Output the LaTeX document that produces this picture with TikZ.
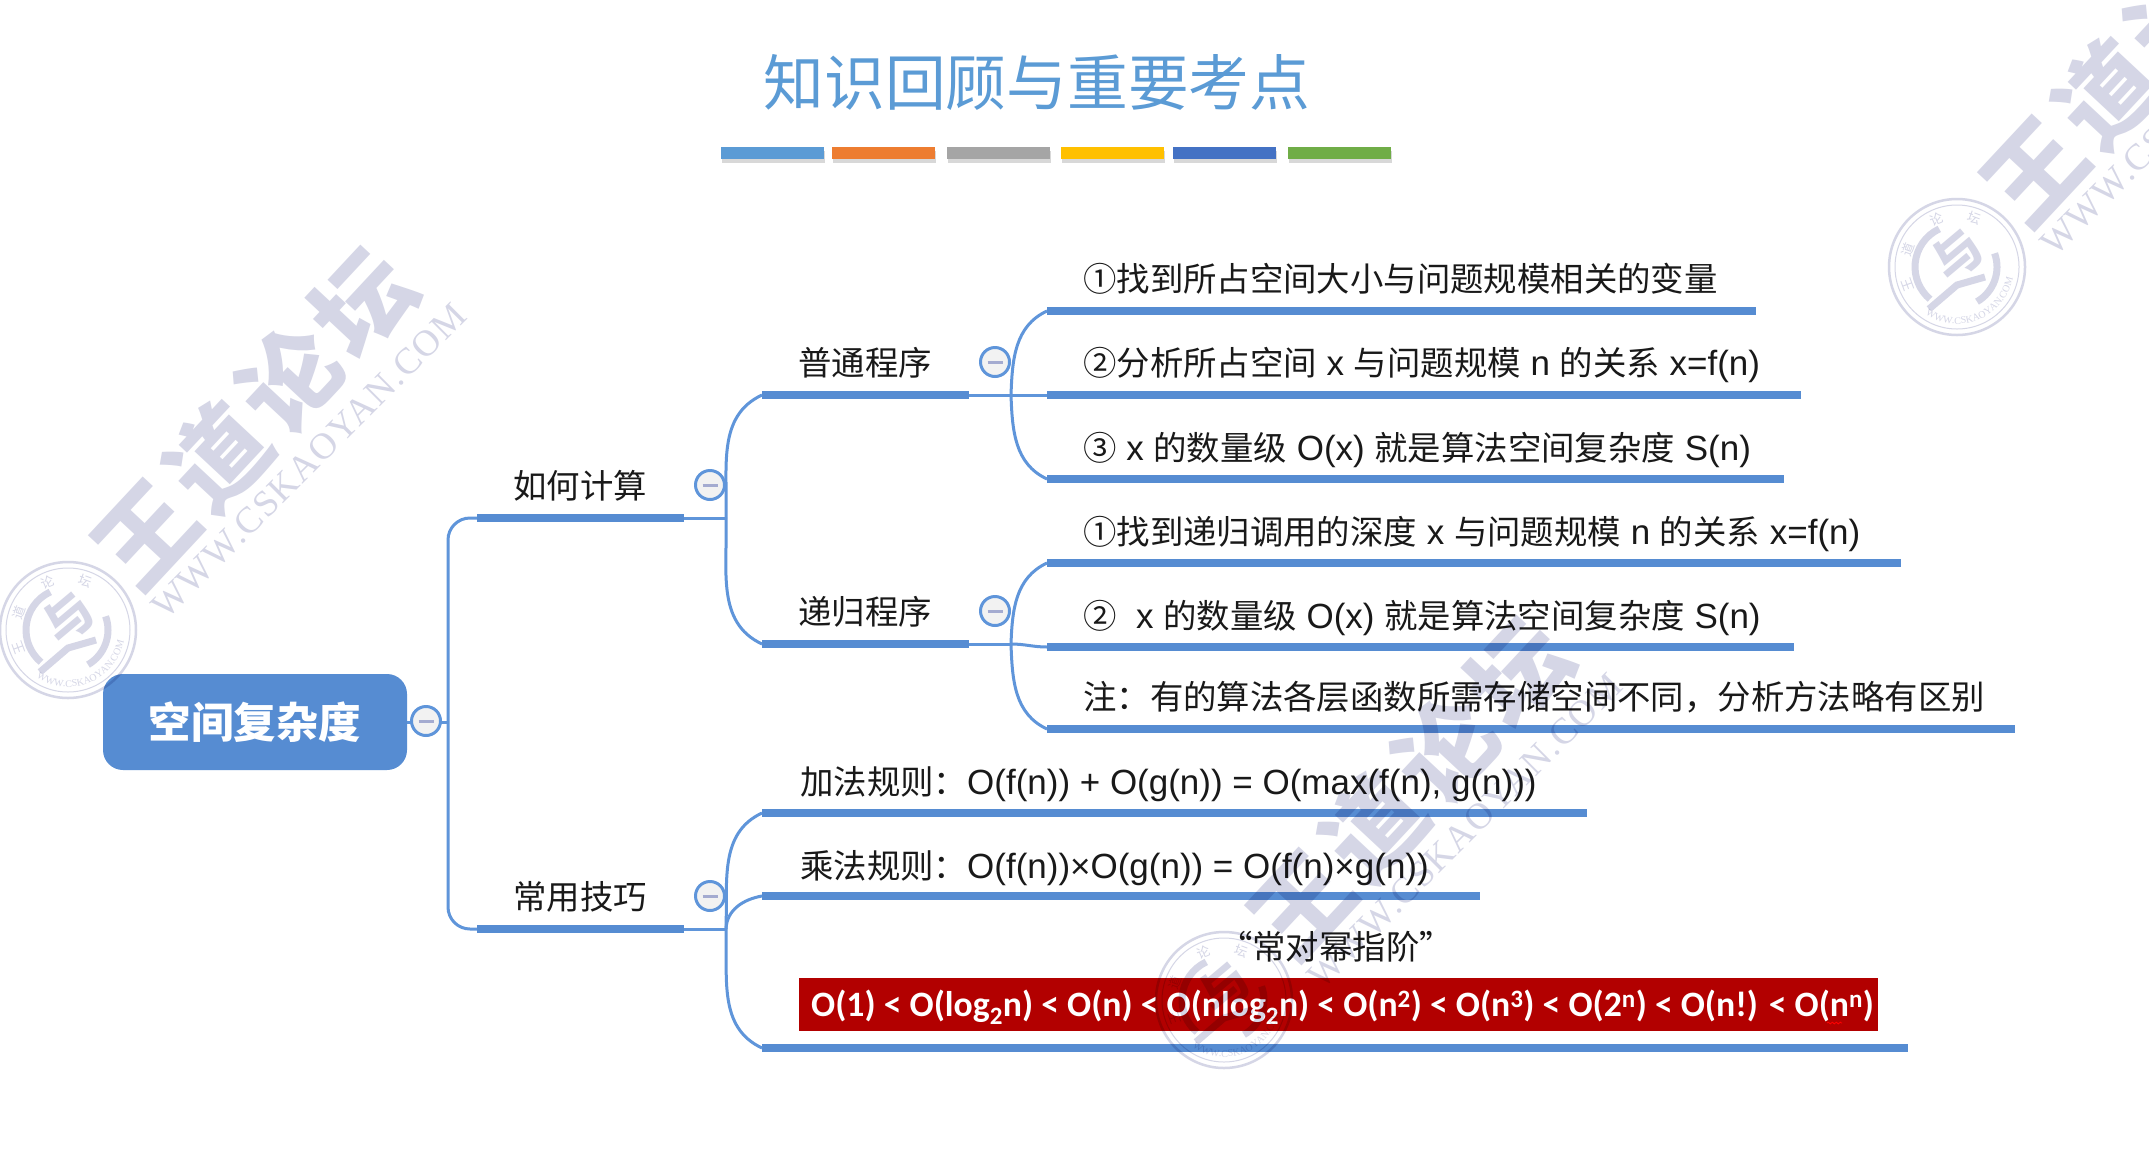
\documentclass[tikz,border=0pt]{standalone}
\usepackage{fontspec}
\setmainfont[Scale=1.06]{Liberation Sans}
\newfontfamily\cnfont[Scale=1.012]{Noto Sans CJK SC}
\newfontfamily\wmfont[LetterSpace=8]{Noto Sans CJK SC}
\newfontfamily\latinbold{Carlito}
\newfontfamily\wmserif[LetterSpace=4]{Liberation Serif}
\newcommand{\cn}[1]{{\cnfont #1}}
\newcommand{\fwcolon}{\char"FF1A\relax}
\newcommand{\fwcomma}{\char"FF0C\relax}
\usetikzlibrary{shadows,decorations.text,decorations.pathmorphing}
\definecolor{barblue}{HTML}{568CD2}
\definecolor{linkblue}{HTML}{5F95DA}
\definecolor{titleblue}{HTML}{5B9BD5}
\definecolor{wmgrey}{HTML}{D5D6E6}
\definecolor{minusgrey}{HTML}{A4ABD0}
\definecolor{redbox}{HTML}{B20000}
\tikzset{
  bar/.style={fill=barblue,inner sep=0pt,minimum height=8pt,anchor=west},
  link/.style={draw=linkblue,line width=3pt},
  topic/.style={font=\fontsize{33}{36}\selectfont,inner sep=0pt,text height=30pt,text depth=4pt,text=black!90},
  leaf/.style={topic,anchor=west},
  toggle/.style={circle,draw=linkblue,fill=gray!10,line width=3pt,minimum size=29pt,inner sep=0pt},
  stripe/.style={minimum height=12pt,minimum width=103pt,inner sep=0pt,anchor=north west,
    drop shadow={shadow xshift=1pt,shadow yshift=-4pt,opacity=.3}},
  wmark/.pic={
    \begin{scope}[y=1pt,wmgrey]
      \node[font=\fontsize{98}{110}\selectfont\wmfont\bfseries,rotate=47,inner sep=0pt] (big) at (186,212) {王道论坛};
      \node[font=\fontsize{37}{40}\selectfont\wmserif,rotate=45,inner sep=0pt] (site) at (241,169) {WWW.CSKAOYAN.COM};
      \draw[line width=2.5pt] (0,0) circle (68);
      \draw[line width=1pt] (0,0) circle (62);
      \draw[line width=7pt] (115:42) arc (115:230:42);
      \draw[line width=7pt] (20:40) arc (20:-60:40);
      \draw[line width=7pt] (-28,-42) -- (0,-18) -- (28,-10);
      \node[font=\fontsize{48}{50}\selectfont\cnfont\bfseries,rotate=40,inner sep=0pt] (yu) at (0,12) {与};
      \node[font=\fontsize{13}{14}\selectfont\cnfont,rotate=110,inner sep=0pt] (sa) at (200:52) {王};
      \node[font=\fontsize{13}{14}\selectfont\cnfont,rotate=70,inner sep=0pt] (sb) at (160:52) {道};
      \node[font=\fontsize{13}{14}\selectfont\cnfont,rotate=23,inner sep=0pt] (sc) at (113:52) {论};
      \node[font=\fontsize{13}{14}\selectfont\cnfont,rotate=-20,inner sep=0pt] (sd) at (70:52) {坛};
      \path[postaction={decorate},decoration={text along path,text align=center,
        text={|\fontsize{10}{11}\selectfont\wmserif\color{wmgrey}|WWW.CSKAOYAN.COM}}]
        (225:57) arc (225:360:57);
    \end{scope}
  }
}
\begin{document}
\begin{tikzpicture}[x=1pt,y=-1pt]
\clip (0,0) rectangle (2149,1149);
\fill[white] (0,0) rectangle (2149,1149);

\node[font=\fontsize{60}{64}\selectfont\cnfont,text=titleblue,inner sep=0pt] (title) at (1037,82) {知识回顾与重要考点};
\node[stripe,fill=titleblue] (stripea) at (721,147) {};
\node[stripe,fill={rgb,255:red,237;green,125;blue,49}] (stripeb) at (832,147) {};
\node[stripe,fill={rgb,255:red,165;green,165;blue,165}] (stripec) at (947,147) {};
\node[stripe,fill={rgb,255:red,255;green,192;blue,0}] (striped) at (1061,147) {};
\node[stripe,fill={rgb,255:red,68;green,114;blue,196}] (stripee) at (1173,147) {};
\node[stripe,fill={rgb,255:red,112;green,173;blue,71}] (stripef) at (1288,147) {};

\node[fill=barblue,rounded corners=20pt,minimum width=304pt,minimum height=96pt,inner sep=0pt,
  font=\fontsize{42}{44}\selectfont\cnfont\bfseries,text=white] (root) at (255,722) {空间复杂度};

\node[bar,minimum width=207pt] (barcalc) at (477,518) {};
\node[bar,minimum width=207pt] (barcommon) at (477,929) {};
\node[bar,minimum width=207pt] (barplain) at (762,395) {};
\node[bar,minimum width=207pt] (barrec) at (762,644) {};
\node[bar,minimum width=709pt] (barpa) at (1047,311) {};
\node[bar,minimum width=754pt] (barpb) at (1047,395) {};
\node[bar,minimum width=737pt] (barpc) at (1047,479) {};
\node[bar,minimum width=854pt] (barra) at (1047,563) {};
\node[bar,minimum width=747pt] (barrb) at (1047,647) {};
\node[bar,minimum width=968pt] (barrc) at (1047,729) {};
\node[bar,minimum width=825pt] (barca) at (762,813) {};
\node[bar,minimum width=718pt] (barcb) at (762,896) {};
\node[bar,minimum width=1146pt] (barcc) at (762,1048) {};

\coordinate (jroot) at (448,722);
\coordinate (jcalc) at (726,518);
\coordinate (jcommon) at (726,929);
\coordinate (jplain) at (1011,395);
\coordinate (jrec) at (1011,644);

\draw[link] (root.east) -- (jroot);
\draw[link,rounded corners=22pt] (barcalc.west) -- (jroot |- barcalc.west) -- (jroot |- barcommon.west) -- (barcommon.west);
\draw[link] (barcalc.east) -- (jcalc);
\draw[link] (jcalc) to[out=88,in=205] (barplain.west);
\draw[link] (jcalc) to[out=-88,in=155] (barrec.west);
\draw[link] (barplain.east) -- (barpb.west);
\draw[link] (jplain) to[out=88,in=205] (barpa.west);
\draw[link] (jplain) to[out=-88,in=155] (barpc.west);
\draw[link] (barrec.east) -- (jrec);
\draw[link] (jrec) to[out=88,in=205] (barra.west);
\draw[link] (jrec) to[out=0,in=180] (barrb.west);
\draw[link] (jrec) to[out=-88,in=155] (barrc.west);
\draw[link] (barcommon.east) -- (jcommon);
\draw[link] (jcommon) to[out=88,in=205] (barca.west);
\draw[link] (jcommon) to[out=88,in=190] (barcb.west);
\draw[link] (jcommon) to[out=-88,in=155] (barcc.west);

\node[toggle] (toggleroot) at (426,721) {\textcolor{minusgrey}{\rule{15pt}{3pt}}};
\node[toggle] (togglecalc) at (710,485) {\textcolor{minusgrey}{\rule{15pt}{3pt}}};
\node[toggle] (togglecommon) at (710,896) {\textcolor{minusgrey}{\rule{15pt}{3pt}}};
\node[toggle] (toggleplain) at (995,362) {\textcolor{minusgrey}{\rule{15pt}{3pt}}};
\node[toggle] (togglerec) at (995,611) {\textcolor{minusgrey}{\rule{15pt}{3pt}}};

\node[topic] (calc) at (580,485) {\cn{如何计算}};
\node[topic] (common) at (580,896) {\cn{常用技巧}};
\node[topic] (plain) at (865,362) {\cn{普通程序}};
\node[topic] (rec) at (865,611) {\cn{递归程序}};

\node[leaf] (pa) at (1083,278) {\cn{①找到所占空间大小与问题规模相关的变量}};
\node[leaf] (pb) at (1083,362) {\cn{②分析所占空间} x \cn{与问题规模} n \cn{的关系} x=f(n)};
\node[leaf] (pc) at (1083,447) {\cn{③} x \cn{的数量级} O(x) \cn{就是算法空间复杂度} S(n)};
\node[leaf] (ra) at (1083,531) {\cn{①找到递归调用的深度} x \cn{与问题规模} n \cn{的关系} x=f(n)};
\node[leaf] (rb) at (1083,615) {\cn{②}\ \ x \cn{的数量级} O(x) \cn{就是算法空间复杂度} S(n)};
\node[leaf] (rc) at (1083,696) {\cn{注\fwcolon 有的算法各层函数所需存储空间不同\fwcomma 分析方法略有区别}};
\node[leaf] (ca) at (800,781) {\cn{加法规则\fwcolon}O(f(n)) + O(g(n)) = O(max(f(n), g(n)))};
\node[leaf] (cb) at (800,865) {\cn{乘法规则\fwcolon}O(f(n))×O(g(n)) = O(f(n)×g(n))};
\node[topic] (cc) at (1336,946) {\cn{“常对幂指阶”}};

\node[fill=redbox,minimum width=1079pt,minimum height=53pt,inner sep=0pt,anchor=north west] (order) at (799,978) {};
\node[font=\fontsize{35.7}{38}\selectfont\latinbold\bfseries,text=white,inner sep=0pt,anchor=west] (ordertext) at (811,1007)
  {O(1) < O(log\textsubscript{2}n) < O(n) < O(nlog\textsubscript{2}n) < O(n\textsuperscript{2}) < O(n\textsuperscript{3}) < O(2\textsuperscript{n}) < O(n!) < O(n\textsuperscript{n})};
\coordinate (wavea) at (1827,1023);
\coordinate (waveb) at (1842,1023);
\draw[red,line width=.8pt,decorate,decoration={snake,amplitude=.9pt,segment length=4pt}] (wavea) -- (waveb);

\begin{scope}[blend mode=multiply]
\pic (wmleft) at (68,630) {wmark};
\pic (wmmid) at (1224,1000) {wmark};
\pic (wmright) at (1957,267) {wmark};
\end{scope}
\end{tikzpicture}
\end{document}
